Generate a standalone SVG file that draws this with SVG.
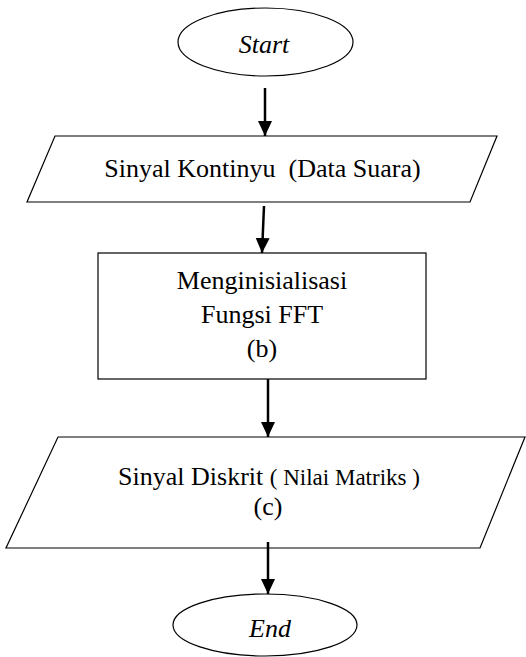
<svg xmlns="http://www.w3.org/2000/svg" width="526" height="657" viewBox="0 0 526 657">
  <style>
    .shape { fill: #ffffff; stroke: #000000; stroke-width: 1.2; }
    .conn { stroke: #000000; stroke-width: 2.5; fill: none; marker-end: url(#arrow); }
    .lbl { font-family: 'Liberation Serif', 'DejaVu Serif', serif; font-size: 26px; fill: #000000; text-anchor: middle; }
    .it { font-style: italic; }
  </style>
  <defs>
    <marker id="arrow" markerUnits="userSpaceOnUse" markerWidth="16" markerHeight="16" refX="15" refY="8" orient="auto">
      <path d="M0,1 L15,8 L0,15 z" fill="#000000"/>
    </marker>
  </defs>
  <rect width="526" height="657" fill="#ffffff"/>

  <g id="start">
    <ellipse class="shape" cx="265.5" cy="42" rx="87.5" ry="34"/>
    <text class="lbl it" x="264" y="53">Start</text>
  </g>

  <g id="input1">
    <polygon class="shape" points="55,136 497,136 470,202 27,202"/>
    <text class="lbl" x="262.5" y="177" xml:space="preserve">Sinyal Kontinyu  (Data Suara)</text>
  </g>

  <g id="process">
    <rect class="shape" x="98" y="253" width="328" height="126"/>
    <text class="lbl" x="262" y="289">Menginisialisasi</text>
    <text class="lbl" x="262" y="323">Fungsi FFT</text>
    <text class="lbl" x="262" y="357">(b)</text>
  </g>

  <g id="output">
    <polygon class="shape" points="58,437 525,437 480,548 6,548"/>
    <text class="lbl" x="269" y="485" xml:space="preserve">Sinyal Diskrit <tspan font-size="23">( Nilai Matriks )</tspan></text>
    <text class="lbl" x="268" y="515">(c)</text>
  </g>

  <g id="end">
    <ellipse class="shape" cx="265" cy="625" rx="92" ry="31"/>
    <text class="lbl it" x="270" y="637">End</text>
  </g>

  <g id="connectors">
    <line class="conn" x1="265" y1="88" x2="265" y2="136"/>
    <line class="conn" x1="264" y1="206" x2="262" y2="253"/>
    <line class="conn" x1="268" y1="379" x2="268" y2="437"/>
    <line class="conn" x1="268" y1="542" x2="268" y2="594"/>
  </g>
</svg>
